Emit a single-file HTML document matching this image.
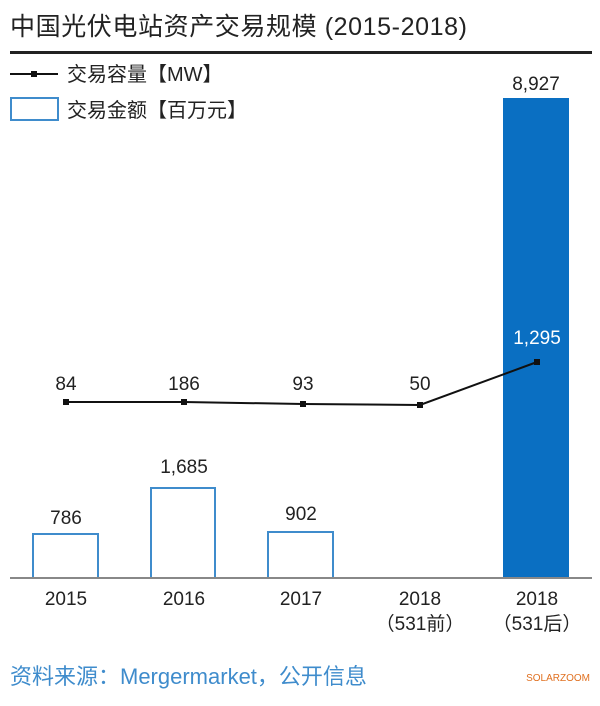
<!DOCTYPE html><html><head><meta charset="utf-8"><style>body{margin:0;background:#fff}</style></head><body>
<svg width="600" height="701" xmlns="http://www.w3.org/2000/svg" font-family="'Liberation Sans','Noto Sans CJK SC',sans-serif">
<rect width="600" height="701" fill="#fff"/>
<text x="10" y="35" font-size="25" fill="#222" letter-spacing="0.6">中国光伏电站资产交易规模 (2015-2018)</text>
<rect x="10" y="51" width="582" height="3" fill="#222"/>
<line x1="10" y1="74" x2="58" y2="74" stroke="#111" stroke-width="2"/><rect x="31" y="71" width="6" height="6" fill="#111"/>
<text x="67" y="81" font-size="20" fill="#222">交易容量【MW】</text>
<rect x="11" y="98" width="47" height="22" fill="#fff" stroke="#3f8ccc" stroke-width="2"/>
<text x="67" y="117" font-size="20" fill="#222">交易金额【百万元】</text>
<g fill="#fff" stroke="#3f8ccc" stroke-width="2">
<rect x="33" y="534" width="65" height="44"/><rect x="151" y="488" width="64" height="90"/><rect x="268" y="532" width="65" height="46"/></g>
<rect x="503" y="98" width="66" height="480" fill="#0a6fc2"/>
<line x1="10" y1="578" x2="592" y2="578" stroke="#888" stroke-width="2"/>
<g font-size="19" fill="#222" text-anchor="middle">
<text x="66" y="524">786</text><text x="184" y="473">1,685</text><text x="301" y="520">902</text><text x="536" y="90">8,927</text>
<text x="66" y="390">84</text><text x="184" y="390">186</text><text x="303" y="390">93</text><text x="420" y="390">50</text>
<text x="537" y="344" fill="#fff">1,295</text>
<text x="66" y="605">2015</text><text x="184" y="605">2016</text><text x="301" y="605">2017</text><text x="420" y="605">2018</text><text x="537" y="605">2018</text>
<text x="420" y="630">（531前）</text><text x="537" y="630">（531后）</text></g>
<polyline points="66,402 184,402 303,404 420,405 537,362" fill="none" stroke="#111" stroke-width="2"/>
<g fill="#111"><rect x="63" y="399" width="6" height="6"/><rect x="181" y="399" width="6" height="6"/><rect x="300" y="401" width="6" height="6"/><rect x="417" y="402" width="6" height="6"/><rect x="534" y="359" width="6" height="6"/></g>
<text x="10" y="684" font-size="22" fill="#3f8ccc">资料来源：Mergermarket，公开信息</text>
<text x="590" y="681" font-size="10" fill="#e07020" text-anchor="end">SOLARZOOM</text>
</svg></body></html>
